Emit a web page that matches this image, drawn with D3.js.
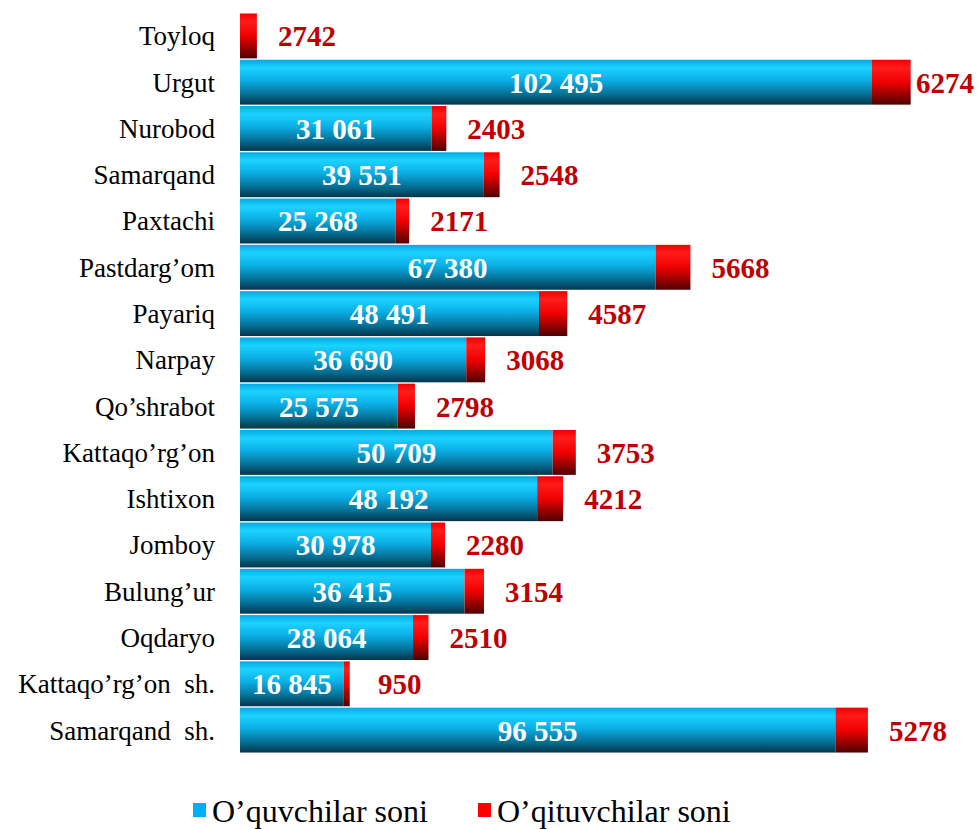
<!DOCTYPE html>
<html>
<head>
<meta charset="utf-8">
<script src="https://cdn.jsdelivr.net/npm/d3@7"></script>
<style>
  body { margin: 0; background: #fff; }
  text { font-family: "Liberation Serif", "Times New Roman", serif; }
</style>
</head>
<body>
<div id="chart"></div>
<script>
// data
var districts = ["Toyloq", "Urgut", "Nurobod", "Samarqand", "Paxtachi", "Pastdarg\u2019om", "Payariq", "Narpay",
  "Qo\u2019shrabot", "Kattaqo\u2019rg\u2019on", "Ishtixon", "Jomboy", "Bulung\u2019ur", "Oqdaryo",
  "Kattaqo\u2019rg\u2019on\u00a0 sh.", "Samarqand\u00a0 sh."];
var pupils = [0, 102495, 31061, 39551, 25268, 67380, 48491, 36690, 25575, 50709, 48192, 30978, 36415, 28064, 16845, 96555];
var teachers = [2742, 6274, 2403, 2548, 2171, 5668, 4587, 3068, 2798, 3753, 4212, 2280, 3154, 2510, 950, 5278];
var seriesNames = ["O\u2019quvchilar soni", "O\u2019qituvchilar soni"];

var width = 979, height = 829;
var margin = {top: 13, right: 60, bottom: 76, left: 240};

var svg = d3.select("#chart").append("svg")
  .attr("width", width)
  .attr("height", height);

var defs = svg.append("defs");
var gBlue = defs.append("linearGradient").attr("id", "gBlue")
  .attr("x1", 0).attr("y1", 0).attr("x2", 0).attr("y2", 1);
[[0, "#05a9e2"], [0.18, "#1cd2ff"], [0.45, "#0bb0e6"], [0.75, "#06739a"], [1, "#04364a"]]
  .forEach(s => gBlue.append("stop").attr("offset", s[0]).attr("stop-color", s[1]));
var gRed = defs.append("linearGradient").attr("id", "gRed")
  .attr("x1", 0).attr("y1", 0).attr("x2", 0).attr("y2", 1);
[[0, "#f00000"], [0.18, "#ff1c1c"], [0.5, "#f00000"], [0.75, "#a00000"], [1, "#4e0000"]]
  .forEach(s => gRed.append("stop").attr("offset", s[0]).attr("stop-color", s[1]));

var x = d3.scaleLinear()
  .domain([0, 110000])
  .range([margin.left, margin.left + 110000 * 632 / 102495]);

var y = d3.scaleBand()
  .domain(districts)
  .range([margin.top, height - margin.bottom])
  .paddingInner(0.03)
  .paddingOuter(0.01);

var rows = districts.map((d, i) => ({name: d, p: pupils[i], t: teachers[i]}));

// category labels
svg.append("g").selectAll("text")
  .data(rows)
  .join("text")
  .attr("x", margin.left - 25)
  .attr("y", d => y(d.name) + y.bandwidth() / 2)
  .attr("dy", "0.35em")
  .attr("text-anchor", "end")
  .attr("font-size", 27)
  .attr("fill", "#000")
  .text(d => d.name);

// pupils bars
svg.append("g").selectAll("rect")
  .data(rows.filter(d => d.p > 0))
  .join("rect")
  .attr("x", x(0))
  .attr("y", d => y(d.name))
  .attr("width", d => x(d.p) - x(0))
  .attr("height", y.bandwidth())
  .attr("fill", "url(#gBlue)");

// teachers bars
svg.append("g").selectAll("rect")
  .data(rows)
  .join("rect")
  .attr("x", d => x(d.p))
  .attr("y", d => y(d.name))
  .attr("width", d => x(d.p + d.t) - x(d.p))
  .attr("height", y.bandwidth())
  .attr("fill", "url(#gRed)");

var fmt = v => d3.format(",")(v).replace(/,/g, " ");

// pupils labels
svg.append("g").selectAll("text")
  .data(rows.filter(d => d.p > 0))
  .join("text")
  .attr("x", d => (x(0) + x(d.p)) / 2)
  .attr("y", d => y(d.name) + y.bandwidth() / 2)
  .attr("dy", "0.36em")
  .attr("text-anchor", "middle")
  .attr("font-size", 29)
  .attr("font-weight", "bold")
  .attr("fill", "#fff")
  .text(d => fmt(d.p));

// teachers labels
svg.append("g").selectAll("text")
  .data(rows)
  .join("text")
  .attr("x", d => Math.min(x(d.p + d.t) + 50, width - 34))
  .attr("y", d => y(d.name) + y.bandwidth() / 2)
  .attr("dy", "0.36em")
  .attr("text-anchor", "middle")
  .attr("font-size", 29)
  .attr("font-weight", "bold")
  .attr("fill", "#c00000")
  .text(d => d.t);

// legend
var legend = svg.append("g").attr("transform", "translate(193,811)");
var items = [{name: seriesNames[0], color: "#00b0f0", x: 0}, {name: seriesNames[1], color: "#ff0000", x: 285}];
var li = legend.selectAll("g").data(items).join("g")
  .attr("transform", d => `translate(${d.x},0)`);
li.append("rect")
  .attr("x", 0).attr("y", -8)
  .attr("width", 13).attr("height", 14)
  .attr("fill", d => d.color);
li.append("text")
  .attr("x", 19)
  .attr("y", 0)
  .attr("dy", "0.35em")
  .attr("font-size", 32)
  .attr("fill", "#000")
  .text(d => d.name);
</script>
</body>
</html>
